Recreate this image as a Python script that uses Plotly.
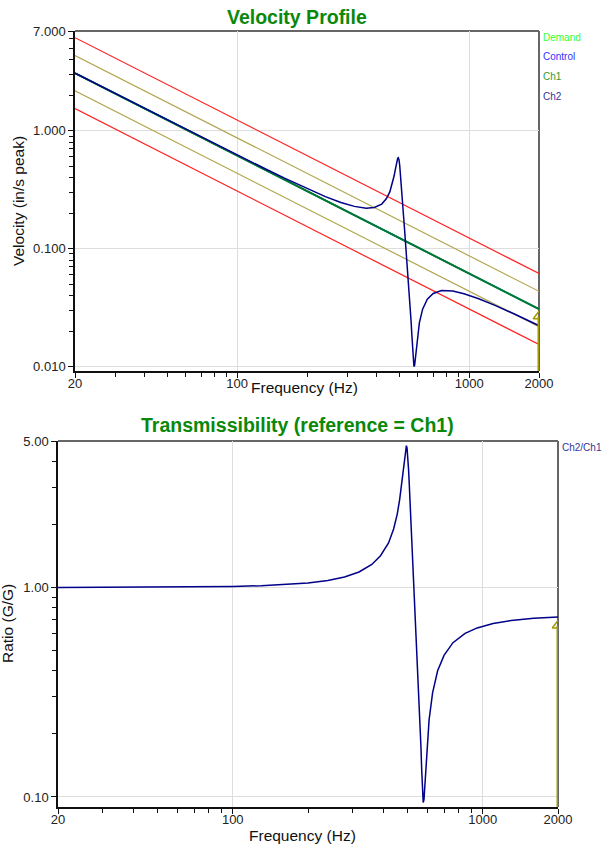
import plotly.graph_objects as go

# ---------------- data ----------------
freq_lines = [20, 2000]
demand = [3.073, 0.03073]
control = [3.073, 0.03073]
ch1 = [3.073, 0.03073]
abort_hi = [6.146, 0.06146]
abort_lo = [1.537, 0.01537]
alarm_hi = [4.342, 0.04342]
alarm_lo = [2.176, 0.02176]

freq = [20, 30, 50, 70, 100, 130, 160, 200, 240, 280, 320, 360, 390, 420, 440,
        455, 465, 475, 480, 485, 488, 492, 495, 498, 502, 505, 508, 515, 522,
        526, 530, 534, 538, 542, 546, 550, 554, 558, 562, 566, 570, 574, 578,
        582, 586, 590, 596, 610, 630, 660, 700, 760, 850, 950, 1100, 1300,
        1600, 2000]

ch2 = [3.073, 2.051, 1.233, 0.882, 0.621, 0.482, 0.396, 0.323, 0.276, 0.246,
       0.228, 0.220, 0.2235, 0.2385, 0.2654, 0.3026, 0.3463, 0.4141, 0.4635,
       0.5208, 0.5541, 0.5846, 0.5898, 0.5702, 0.5068, 0.4442, 0.3823, 0.2637,
       0.1837, 0.1507, 0.1241, 0.1024, 0.0834, 0.0714, 0.0585, 0.0481, 0.0388,
       0.0308, 0.0241, 0.0188, 0.01445, 0.01135, 0.00999, 0.01024, 0.01164,
       0.01365, 0.01681, 0.02348, 0.03063, 0.03725, 0.04162, 0.04407, 0.04367,
       0.04147, 0.0376, 0.03286, 0.02735, 0.02219]

ratio = [1.000, 1.001, 1.003, 1.005, 1.011, 1.019, 1.030, 1.050, 1.079, 1.121,
         1.185, 1.288, 1.418, 1.63, 1.90, 2.24, 2.62, 3.20, 3.62, 4.11, 4.40,
         4.68, 4.75, 4.62, 4.14, 3.65, 3.16, 2.21, 1.56, 1.29, 1.07, 0.89, 0.73,
         0.63, 0.52, 0.43, 0.35, 0.28, 0.22, 0.173, 0.134, 0.106, 0.094, 0.097,
         0.111, 0.131, 0.163, 0.233, 0.314, 0.400, 0.474, 0.545, 0.604, 0.641,
         0.673, 0.695, 0.712, 0.722]

cursor_f = [2000, 2000]
cursor_top = [0.008, 0.0267]
cursor_bot = [0.08, 0.658]

x_ticks = [20, 100, 1000, 2000]
x_tick_text = ["20", "100", "1000", "2000"]
y1_ticks = [7, 1, 0.1, 0.01]
y1_tick_text = ["7.000", "1.000", "0.100", "0.010"]
y2_ticks = [5, 1, 0.1]
y2_tick_text = ["5.00", "1.00", "0.10"]

legend_top = ["Demand", "Control", "Ch1", "Ch2"]
legend_top_colors = ["#33ff33", "#3333ff", "#339933", "#333399"]

# ---------------- styles ----------------
FONT = "Liberation Sans, Arial, sans-serif"
RED = "#ff2020"
OLIVE = "#b0a850"
CH1C = "#007a33"
CH2C = "#000088"
CURS = "#a09a00"
TITLE_GREEN = "#0a880a"

W, H = 603, 848
def px_x(p): return p / W
def px_y(p): return 1 - p / H

fig = go.Figure()

def add(x, y, color, width, xa, ya, name=""):
    fig.add_trace(go.Scatter(x=x, y=y, mode="lines", line=dict(color=color, width=width),
                             xaxis=xa, yaxis=ya, showlegend=False, name=name,
                             hoverinfo="skip"))

# top chart
add(freq_lines, abort_hi, RED, 1.2, "x", "y")
add(freq_lines, abort_lo, RED, 1.2, "x", "y")
add(freq_lines, alarm_hi, OLIVE, 1.2, "x", "y")
add(freq_lines, alarm_lo, OLIVE, 1.2, "x", "y")
add(freq_lines, demand, "#00ff00", 1.5, "x", "y")
add(freq_lines, control, "#3333ff", 1.5, "x", "y")
add(freq_lines, ch1, CH1C, 2, "x", "y")
add(freq, ch2, CH2C, 1.5, "x", "y")
add(cursor_f, cursor_top, CURS, 3, "x", "y")
fig.add_trace(go.Scatter(x=[cursor_f[1]], y=[cursor_top[1]], mode="markers",
                         marker=dict(symbol="triangle-up-open", size=10, color=CURS,
                                     line=dict(width=1.5, color=CURS)),
                         xaxis="x", yaxis="y", showlegend=False, hoverinfo="skip"))

# bottom chart
add(freq, ratio, CH2C, 1.5, "x2", "y2")
add(cursor_f, cursor_bot, CURS, 3, "x2", "y2")
fig.add_trace(go.Scatter(x=[cursor_f[1]], y=[cursor_bot[1]], mode="markers",
                         marker=dict(symbol="triangle-up-open", size=10, color=CURS,
                                     line=dict(width=1.5, color=CURS)),
                         xaxis="x2", yaxis="y2", showlegend=False, hoverinfo="skip"))

def minor_vals(lo_exp, hi_exp, lo, hi):
    vals = []
    for e in range(lo_exp, hi_exp + 1):
        for m in range(2, 10):
            v = m * 10 ** e
            if lo < v < hi:
                vals.append(v)
    return vals

tickfont = dict(family=FONT, size=13, color="#222222")
common_axis = dict(type="log", showline=True, linecolor="#111111", linewidth=1.5,
                   ticks="outside", ticklen=5, tickcolor="#111111", tickwidth=1,
                   showgrid=True, gridcolor="#dddddd", gridwidth=1, automargin=False,
                   zeroline=False, tickfont=tickfont, tickmode="array")

fig.update_layout(
    width=W, height=H, margin=dict(l=0, r=0, t=0, b=0, pad=0, autoexpand=False),
    paper_bgcolor="white", plot_bgcolor="white",
    xaxis=dict(common_axis, domain=[px_x(75), px_x(539)], anchor="y",
               range=[1.30103, 3.30103], tickvals=x_ticks, ticktext=x_tick_text,
               ticklabelstandoff=-5,
               minor=dict(tickvals=minor_vals(1, 3, 20, 2000), ticks="outside",
                          ticklen=4, tickcolor="#111111", showgrid=False)),
    yaxis=dict(common_axis, domain=[px_y(371), px_y(31)], anchor="x",
               range=[-2.038, 0.8451], tickvals=y1_ticks, ticktext=y1_tick_text,
               minor=dict(tickvals=minor_vals(-3, 1, 0.0095, 7), ticks="outside",
                          ticklen=4, tickcolor="#111111", showgrid=False)),
    xaxis2=dict(common_axis, domain=[px_x(58), px_x(558)], anchor="y2",
                range=[1.30103, 3.30103], tickvals=x_ticks, ticktext=x_tick_text,
                ticklabelstandoff=-5,
                minor=dict(tickvals=minor_vals(1, 3, 20, 2000), ticks="outside",
                           ticklen=4, tickcolor="#111111", showgrid=False)),
    yaxis2=dict(common_axis, domain=[px_y(807), px_y(441)], anchor="x2",
                range=[-1.048, 0.699], tickvals=y2_ticks, ticktext=y2_tick_text,
                minor=dict(tickvals=minor_vals(-2, 1, 0.095, 5), ticks="outside",
                           ticklen=4, tickcolor="#111111", showgrid=False)),
)

# top / right frame edges (grey), drawn beneath the traces
for (x0, x1, y0, y1) in [(75, 539, 31, 371), (58, 558, 441, 807)]:
    fig.add_shape(type="line", xref="paper", yref="paper", layer="below",
                  x0=px_x(x0), x1=px_x(x1), y0=px_y(y0), y1=px_y(y0),
                  line=dict(color="#666666", width=2))
    fig.add_shape(type="line", xref="paper", yref="paper", layer="below",
                  x0=px_x(x1), x1=px_x(x1), y0=px_y(y0), y1=px_y(y1),
                  line=dict(color="#666666", width=2))

def ann(text, x, y, size, color="#111111", bold=False, angle=0, xanchor="center", yanchor="middle"):
    fig.add_annotation(text=f"<b>{text}</b>" if bold else text, xref="paper", yref="paper",
                       x=px_x(x), y=px_y(y), showarrow=False, textangle=angle,
                       xanchor=xanchor, yanchor=yanchor, borderpad=0,
                       font=dict(family=FONT, size=size, color=color))

ann("Velocity Profile", 297, 17, 19.5, TITLE_GREEN, bold=True)
ann("Transmissibility (reference = Ch1)", 297, 425, 19.5, TITLE_GREEN, bold=True)
ann("Velocity (in/s peak)", 18, 201, 15.5, angle=-90)
ann("Frequency (Hz)", 304, 387, 15.5)
ann("Ratio (G/G)", 7, 624, 15.5, angle=-90)
ann("Frequency (Hz)", 302, 835, 15.5)

for i, (t, c) in enumerate(zip(legend_top, legend_top_colors)):
    ann(t, 542, 37 + i * 19.7, 10, c, xanchor="left")
ann("Ch2/Ch1", 561, 447, 10, "#333399", xanchor="left")

fig.write_html("out.html")
